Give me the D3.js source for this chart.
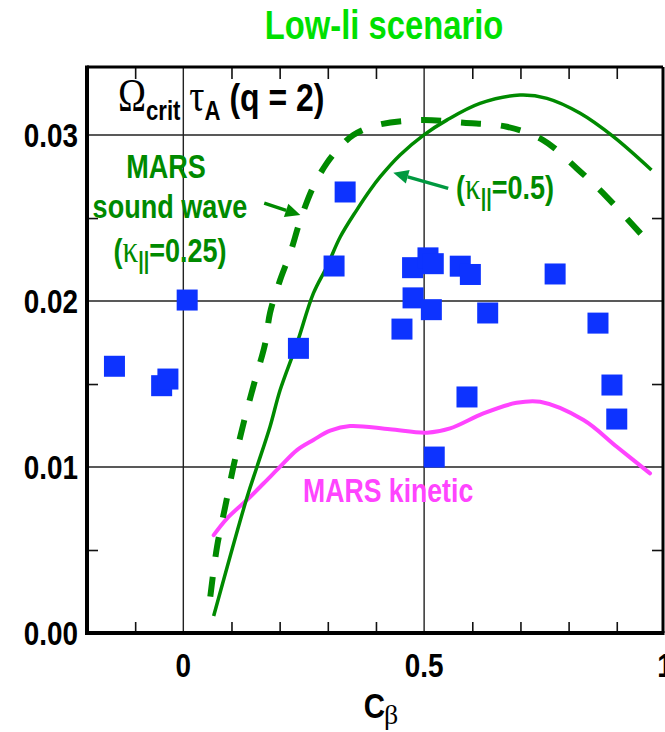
<!DOCTYPE html>
<html>
<head>
<meta charset="utf-8">
<script src="https://cdn.jsdelivr.net/npm/d3@7"></script>
<style>
  html, body { margin: 0; padding: 0; background: #fff; overflow: hidden; }
</style>
</head>
<body>
<svg id="chart" width="665" height="732"></svg>
<script>
// Measured critical rotation (Omega_crit tau_A at q = 2) against C_beta
const pointCbeta = [-0.143, -0.045, -0.032, 0.008, 0.239, 0.313, 0.336, 0.454, 0.476, 0.477,
                    0.508, 0.519, 0.515, 0.521, 0.575, 0.596, 0.589, 0.632, 0.772, 0.861, 0.890, 0.900];
const pointOmega = [0.01607, 0.01490, 0.01530, 0.02006, 0.01715, 0.02211, 0.02657, 0.01831, 0.02201, 0.02019,
                    0.02260, 0.02225, 0.01948, 0.01060, 0.02210, 0.02160, 0.01422, 0.01928, 0.02163, 0.01867, 0.01494, 0.01289];

// MARS sound-wave damping, kappa_par = 0.5 (solid)
const sound05Cbeta = [0.063, 0.132, 0.153, 0.180, 0.201, 0.236, 0.270, 0.298, 0.326, 0.360, 0.388,
                      0.409, 0.450, 0.499, 0.547, 0.616, 0.699, 0.755, 0.824, 0.893, 0.972];
const sound05Omega = [0.00102, 0.00815, 0.01002, 0.01243, 0.01464, 0.01745, 0.02046, 0.02207, 0.02387, 0.02548, 0.02669,
                      0.02749, 0.02880, 0.03000, 0.03090, 0.03191, 0.03241, 0.03221, 0.03131, 0.02990, 0.02789];

// MARS sound-wave damping, kappa_par = 0.25 (dashed)
const sound025Cbeta = [0.056, 0.070, 0.087, 0.104, 0.125, 0.149, 0.170, 0.180, 0.201, 0.222, 0.243, 0.270,
                       0.298, 0.326, 0.353, 0.402, 0.492, 0.582, 0.672, 0.747, 0.817, 0.879, 0.954];
const sound025Omega = [0.00219, 0.00520, 0.00761, 0.01002, 0.01263, 0.01524, 0.01745, 0.01928, 0.02127, 0.02289, 0.02488, 0.02689,
                       0.02831, 0.02930, 0.03000, 0.03060, 0.03090, 0.03074, 0.03050, 0.02970, 0.02799, 0.02628, 0.02392];

// MARS kinetic damping
const kineticCbeta = [0.063, 0.091, 0.132, 0.167, 0.201, 0.236, 0.270, 0.305, 0.346, 0.429, 0.506,
                      0.554, 0.623, 0.692, 0.741, 0.831, 0.900, 0.969];
const kineticOmega = [0.00590, 0.00691, 0.00801, 0.00902, 0.01002, 0.01102, 0.01163, 0.01219, 0.01247, 0.01227, 0.01207,
                      0.01233, 0.01323, 0.01387, 0.01393, 0.01283, 0.01122, 0.00962];

// Axis ticks
const xMajor = [0, 0.5, 1];
const xMajorLabels = ["0", "0.5", "1"];
const xMinor = [-0.1, 0.1, 0.2, 0.3, 0.4, 0.6, 0.7, 0.8, 0.9];
const yMajor = [0, 0.01, 0.02, 0.03];
const yMajorLabels = ["0.00", "0.01", "0.02", "0.03"];
const yMinor = [0.005, 0.015, 0.025];

const svg = d3.select("#chart");
const x = d3.scaleLinear().domain([-0.2, 0.996]).range([87, 663]);
const y = d3.scaleLinear().domain([0, 0.0341]).range([633, 67]);

const SANS = "'Liberation Sans', Arial, Helvetica, sans-serif";
const SERIF = "'Liberation Serif', 'Times New Roman', serif";
const GREEN = "#008a00";

// Condensed bold text: parts may switch font, size and vertical offset
function label(px, py, anchor, size, fill, parts) {
  const g = svg.append("g").attr("transform", `translate(${px},${py}) scale(0.82,1)`);
  const t = g.append("text")
    .attr("text-anchor", anchor)
    .attr("font-family", SANS)
    .attr("font-weight", "bold")
    .attr("font-size", size)
    .attr("fill", fill);
  let shift = 0;
  parts.forEach(p => {
    const part = typeof p === "string" ? { s: p } : p;
    const off = part.dy || 0;
    const ts = t.append("tspan").text(part.s).attr("dy", off - shift);
    shift = off;
    if (part.serif) ts.attr("font-family", SERIF).attr("font-weight", "normal");
    if (part.size) ts.attr("font-size", part.size);
  });
  return t;
}

// Grid lines at the major ticks
svg.append("g").selectAll("line").data([0, 0.5]).join("line")
  .attr("x1", d => x(d)).attr("x2", d => x(d))
  .attr("y1", y(0.0341)).attr("y2", y(0))
  .attr("stroke", "#222").attr("stroke-width", 1.4);
svg.append("g").selectAll("line").data([0.01, 0.02, 0.03]).join("line")
  .attr("x1", x(-0.2)).attr("x2", x(0.996))
  .attr("y1", d => y(d)).attr("y2", d => y(d))
  .attr("stroke", "#222").attr("stroke-width", 1.4);

// Inward minor ticks on all four sides
function ticks(axis, transform) {
  const g = svg.append("g").attr("transform", transform).call(axis);
  g.select(".domain").remove();
  g.selectAll("line").attr("stroke", "#111").attr("stroke-width", 1.6);
  g.selectAll("text").remove();
}
ticks(d3.axisBottom(x).tickValues(xMinor).tickSize(-11), `translate(0,${y(0)})`);
ticks(d3.axisTop(x).tickValues(xMinor).tickSize(-12), `translate(0,${y(0.0341)})`);
ticks(d3.axisLeft(y).tickValues(yMinor).tickSize(-11), `translate(${x(-0.2)},0)`);
ticks(d3.axisRight(y).tickValues(yMinor).tickSize(-11), `translate(${x(0.996)},0)`);

// Frame
svg.append("line").attr("x1", x(-0.2)).attr("x2", x(0.996)).attr("y1", y(0.0341)).attr("y2", y(0.0341))
  .attr("stroke", "#000").attr("stroke-width", 3);
svg.append("line").attr("x1", x(0.996)).attr("x2", x(0.996)).attr("y1", y(0.0341)).attr("y2", y(0))
  .attr("stroke", "#000").attr("stroke-width", 3);
svg.append("line").attr("x1", x(-0.2)).attr("x2", x(-0.2)).attr("y1", y(0.0341) - 1.5).attr("y2", y(0) + 2)
  .attr("stroke", "#000").attr("stroke-width", 4);
svg.append("line").attr("x1", x(-0.2) - 2).attr("x2", x(0.996) + 1.5).attr("y1", y(0)).attr("y2", y(0))
  .attr("stroke", "#000").attr("stroke-width", 4);

// Tick labels
yMajor.forEach((v, i) => label(78, y(v) + 12, "end", 34, "#000", [yMajorLabels[i]]));
xMajor.forEach((v, i) => label(x(v), 677, "middle", 34, "#000", [xMajorLabels[i]]));

// Axis title C_beta
label(385, 718, "end", 36, "#000", ["C"]);
svg.append("text").attr("x", 384).attr("y", 724).attr("font-family", SERIF)
  .attr("font-size", 28).attr("fill", "#000").text("β");

// Curves
const line = d3.line().x(d => x(d[0])).y(d => y(d[1])).curve(d3.curveCatmullRom.alpha(0.5));
svg.append("path").datum(d3.zip(kineticCbeta, kineticOmega)).attr("d", line)
  .attr("fill", "none").attr("stroke", "#ff44ff").attr("stroke-width", 4).attr("stroke-linecap", "round");
svg.append("path").datum(d3.zip(sound05Cbeta, sound05Omega)).attr("d", line)
  .attr("fill", "none").attr("stroke", GREEN).attr("stroke-width", 3.5);
svg.append("path").datum(d3.zip(sound025Cbeta, sound025Omega)).attr("d", line)
  .attr("fill", "none").attr("stroke", GREEN).attr("stroke-width", 6).attr("stroke-dasharray", "20,20");

// Measured points
const S = 21;
svg.append("g").selectAll("rect").data(d3.zip(pointCbeta, pointOmega)).join("rect")
  .attr("x", d => x(d[0]) - S / 2).attr("y", d => y(d[1]) - S / 2)
  .attr("width", S).attr("height", S)
  .attr("fill", "#0d33ff");

// Arrows to the sound-wave curves
function arrow(x1, y1, x2, y2, color) {
  const X1 = x(x1), Y1 = y(y1), X2 = x(x2), Y2 = y(y2);
  const a = Math.atan2(Y2 - Y1, X2 - X1), L = 15, W = 7;
  const bx = X2 - L * Math.cos(a), by = Y2 - L * Math.sin(a);
  svg.append("line").attr("x1", X1).attr("y1", Y1).attr("x2", bx).attr("y2", by)
    .attr("stroke", color).attr("stroke-width", 3.5);
  svg.append("path")
    .attr("d", `M${X2},${Y2}L${bx + W * Math.sin(a)},${by - W * Math.cos(a)}L${bx - W * Math.sin(a)},${by + W * Math.cos(a)}Z`)
    .attr("fill", color);
}
arrow(0.168, 0.02590, 0.243, 0.02518, GREEN);
arrow(0.550, 0.02679, 0.436, 0.02773, "#009940");

// Annotations
label(384, 39, "middle", 40, "#00e000", ["Low-li scenario"]);
label(118, 111, "start", 39, "#000", [
  { s: "Ω", serif: true, size: 46 },
  { s: "crit", size: 27, dy: 9 },
  { s: " " },
  { s: "τ", serif: true, size: 46, dy: 0 },
  { s: "A", size: 27, dy: 9 },
  { s: " (q = 2)", dy: 0 }
]);
label(166, 178, "middle", 33, GREEN, ["MARS"]);
label(170, 218, "middle", 33, GREEN, ["sound wave"]);
label(170, 262, "middle", 33, GREEN, [
  "(",
  { s: "κ", serif: true, size: 38 },
  { s: "||", size: 24, dy: 7 },
  { s: "=0.25)", dy: 0 }
]);
label(456, 199, "start", 33, GREEN, [
  "(",
  { s: "κ", serif: true, size: 38 },
  { s: "||", size: 24, dy: 7 },
  { s: "=0.5)", dy: 0 }
]);
label(303, 502, "start", 32.5, "#ff44ff", ["MARS kinetic"]);
</script>
</body>
</html>
